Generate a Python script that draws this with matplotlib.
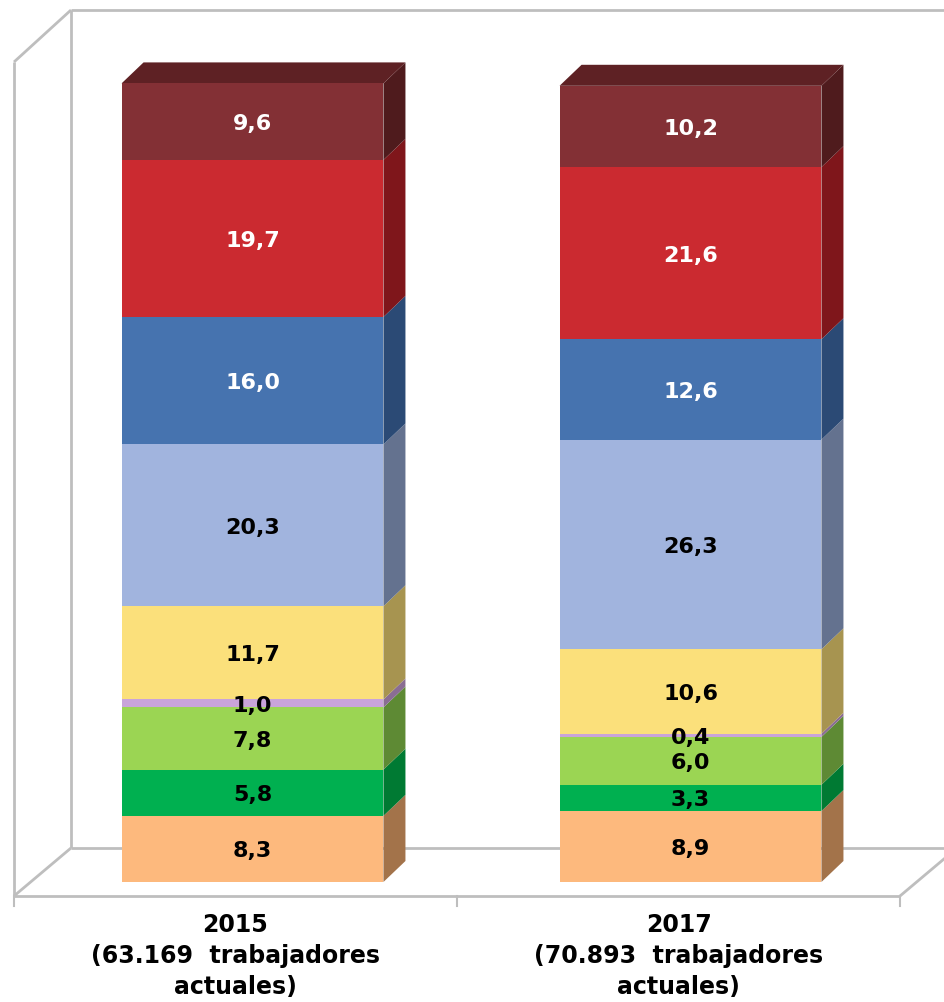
import matplotlib
matplotlib.use("Agg")
import matplotlib.pyplot as plt
from matplotlib.patches import Polygon

# ---------------- data ----------------
categories = ["2015\n(63.169  trabajadores\nactuales)",
              "2017\n(70.893  trabajadores\nactuales)"]
values_2015 = [8.3, 5.8, 7.8, 1.0, 11.7, 20.3, 16.0, 19.7, 9.6]
values_2017 = [8.9, 3.3, 6.0, 0.4, 10.6, 26.3, 12.6, 21.6, 10.2]
labels_2015 = ["8,3", "5,8", "7,8", "1,0", "11,7", "20,3", "16,0", "19,7", "9,6"]
labels_2017 = ["8,9", "3,3", "6,0", "0,4", "10,6", "26,3", "12,6", "21,6", "10,2"]

front_colors = ["#FDB97D", "#00B050", "#9BD553", "#C9A4D9", "#FBE07B",
                "#A1B4DE", "#4673AF", "#CB2A30", "#833035"]
side_colors = ["#A3734A", "#007A33", "#5E8A34", "#8A6D93", "#A79450",
               "#64728F", "#2B4A75", "#7F161B", "#4F1B1D"]
top_color = "#5E2124"
text_colors = ["black"] * 6 + ["white"] * 3

# ---------------- layout ----------------
W, H = 944, 1002
PX_PER_X = 436.5          # pixels per category unit
PX_PER_Y = 7.97           # pixels per percent
X0_PX, Y0_PX = 252.5, 882  # pixel position of (0, 0)

fig = plt.figure(figsize=(W / 100, H / 100), dpi=100)
ax = fig.add_axes([0, 0, 1, 1])
ax.set_xlim(-X0_PX / PX_PER_X, (W - X0_PX) / PX_PER_X)
ax.set_ylim(-(H - Y0_PX) / PX_PER_Y, Y0_PX / PX_PER_Y)
ax.axis("off")

DX = 22 / PX_PER_X
DY = 21 / PX_PER_Y
width = 0.6
xs = [0, 1.0 + 1.5 / PX_PER_X]

# walls / floor (in data units)
wl_f, wl_b = -0.5464, -0.4158
w_top_f, w_top_b = (Y0_PX - 62) / PX_PER_Y, (Y0_PX - 10) / PX_PER_Y
fl_f, fl_b = (Y0_PX - 896) / PX_PER_Y, (Y0_PX - 848) / PX_PER_Y
wr_f, wr_b = 1.4834, 1.59
gray = "#BEBEBE"
lw = 2.0
wall_lines = [
    ([wl_b, wl_b], [fl_b, w_top_b]),
    ([wl_b, wr_b + 0.2], [w_top_b, w_top_b]),
    ([wl_f, wl_f], [fl_f, w_top_f]),
    ([wl_f, wl_b], [w_top_f, w_top_b]),
    ([wl_b, wr_b + 0.2], [fl_b, fl_b]),
    ([wl_f, wr_f], [fl_f, fl_f]),
    ([wl_f, wl_b], [fl_f, fl_b]),
    ([wr_f, wr_f + (wl_b - wl_f)], [fl_f, fl_b]),
]
for lx, ly in wall_lines:
    ax.plot(lx, ly, color=gray, lw=lw, zorder=1, solid_capstyle="butt")
# floor ticks
mid = (wl_f + wr_f) / 2
for tx in [wl_f, mid, wr_f]:
    ax.plot([tx, tx], [fl_f, fl_f - 1.3], color=gray, lw=1.5, zorder=1)

# bars
for xc, vals, labs in [(xs[0], values_2015, labels_2015),
                       (xs[1], values_2017, labels_2017)]:
    bottom = 0.0
    xl, xr = xc - width / 2, xc + width / 2
    for i, v in enumerate(vals):
        ax.bar(xc, v, width=width, bottom=bottom, color=front_colors[i],
               edgecolor="none", zorder=3)
        side = Polygon([(xr, bottom), (xr + DX, bottom + DY),
                        (xr + DX, bottom + v + DY), (xr, bottom + v)],
                       closed=True, facecolor=side_colors[i],
                       edgecolor="none", zorder=2)
        ax.add_patch(side)
        bottom += v
    top = Polygon([(xl, bottom), (xl + DX, bottom + DY),
                   (xr + DX, bottom + DY), (xr, bottom)],
                  closed=True, facecolor=top_color, edgecolor="none", zorder=2)
    ax.add_patch(top)
    # labels
    bottom = 0.0
    for i, v in enumerate(vals):
        ax.text(xc, bottom + v / 2 - 0.3, labs[i], ha="center", va="center",
                color=text_colors[i], fontsize=16, fontweight="bold",
                family="DejaVu Sans", zorder=5)
        bottom += v

# category labels
cat_x = [(wl_f + mid) / 2, (mid + wr_f) / 2]
for cx, lab in zip(cat_x, categories):
    ax.text(cx, -3.9, lab, ha="center", va="top", fontsize=17,
            fontweight="bold", family="DejaVu Sans", linespacing=1.36,
            zorder=5)

fig.savefig("out.png", dpi=100)
